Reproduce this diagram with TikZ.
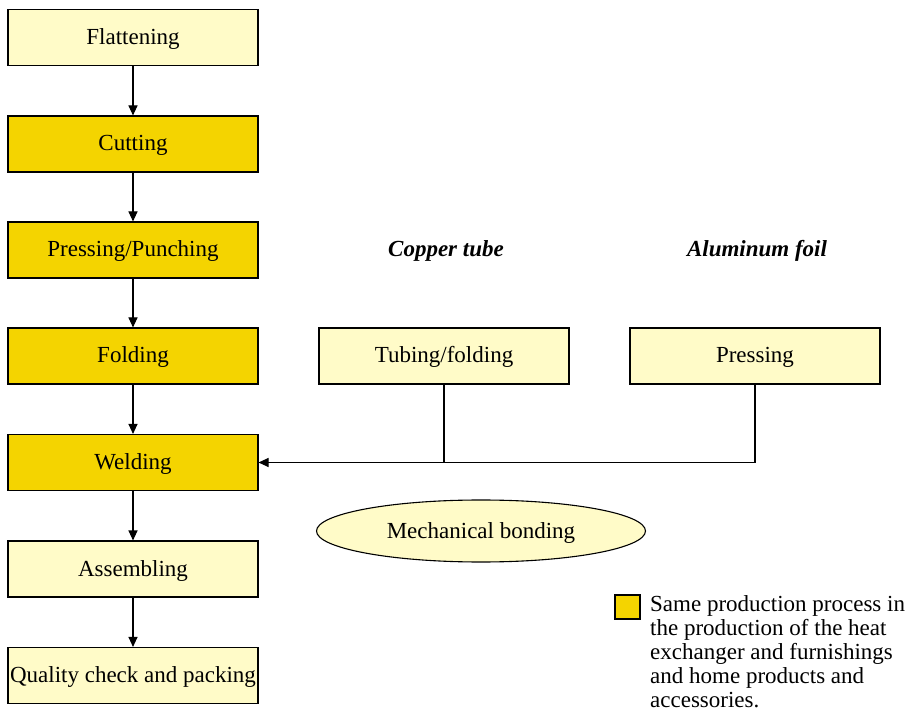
\documentclass[tikz,border=0pt]{standalone}
\usepackage{fontspec}
\setmainfont{Liberation Serif}
\usetikzlibrary{shapes.geometric,arrows.meta}
\definecolor{paleyel}{HTML}{FFFBC8}
\definecolor{goldyel}{HTML}{F4D400}
\tikzset{every node/.style={font=\fontsize{23}{28}\selectfont, inner sep=0pt},
         procbox/.style={draw=black, line width=1.1pt, minimum width=250pt, minimum height=56pt,
                         text height=19pt, text depth=5pt},
         lightbox/.style={procbox, fill=paleyel},
         samebox/.style={procbox, fill=goldyel},
         flow/.style={line width=1.1pt, -{Triangle[length=10pt,width=9pt]}},
         title/.style={font=\fontsize{23}{28}\selectfont\bfseries\itshape}}

\begin{document}
\begin{tikzpicture}[x=1pt,y=-1pt]
   \useasboundingbox (0,0) rectangle (922,711);
   % main line
   \node[lightbox] (flat)  at (133, 37.5) {Flattening};
   \node[samebox]  (cut)   at (133,144.0) {Cutting};
   \node[samebox]  (press) at (133,250.0) {Pressing/Punching};
   \node[samebox]  (fold)  at (133,356.0) {Folding};
   \node[samebox]  (weld)  at (133,462.5) {Welding};
   \node[lightbox] (assem) at (133,569.0) {Assembling};
   \node[lightbox] (qual)  at (133,675.5) {Quality check and packing};
   \draw[flow] (flat) -- (cut);
   \draw[flow] (cut) -- (press);
   \draw[flow] (press) -- (fold);
   \draw[flow] (fold) -- (weld);
   \draw[flow] (weld) -- (assem);
   \draw[flow] (assem) -- (qual);

   % side parts
   \node[title] (tubet) at (446,251) {Copper tube};
   \node[title] (foilt) at (757,251) {Aluminum foil};
   \node[lightbox] (tube) at (444,356) {Tubing/folding};
   \node[lightbox] (foil) at (755,356) {Pressing};
   \coordinate (join) at (444,463);
   \draw[line width=1.1pt] (tube) -- (join);
   \draw[flow] (foil.south) |- (weld.east);

   \node[ellipse, draw=black, line width=1.1pt, fill=paleyel, minimum width=329pt, minimum height=62pt,
         text height=19pt, text depth=5pt] (bond) at (481,531) {Mechanical bonding};

   % legend
   \node[draw=black, line width=1.1pt, fill=goldyel, minimum width=25pt, minimum height=24pt] (key) at (627.5,607) {};
   \node[anchor=north west, align=left, font=\fontsize{23}{24.2}\selectfont] (keytext) at (650,595)
     {Same production process in\\the production of the heat\\exchanger and furnishings\\and home products and\\accessories.};
\end{tikzpicture}
\end{document}
